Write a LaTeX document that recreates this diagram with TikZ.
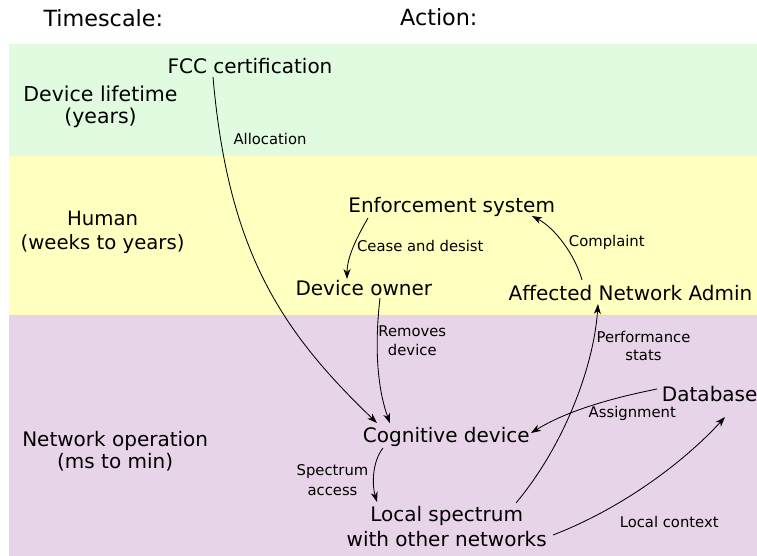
\documentclass[tikz,border=0pt]{standalone}
\usepackage{fontspec}
\setmainfont{DejaVu Sans}
\usetikzlibrary{arrows.meta,calc}
\definecolor{bandgreen}{RGB}{224,251,224}
\definecolor{bandyellow}{RGB}{255,255,192}
\definecolor{bandpurple}{RGB}{232,212,232}
% two centred lines, the node's baseline being that of the second line
\newcommand\twolines[2]{\begin{tabular}[b]{@{}c@{}}#1\\#2\end{tabular}}
\begin{document}
\begin{tikzpicture}[x=1pt,y=-1pt,
  every node/.style={inner sep=0pt,outer sep=0pt,anchor=base},
  head/.style={font=\fontsize{22.3}{26}\selectfont},
  lbl/.style={font=\fontsize{20}{24}\selectfont},
  note/.style={font=\fontsize{14.8}{18}\selectfont},
  lines/.style 2 args={font=\fontsize{#1}{#2}\selectfont},
  link/.style={line width=0.85pt,-{Stealth[length=10pt,width=7pt,inset=3pt]}}]

\useasboundingbox (0,0) rectangle (757,556);
\fill[white] (0,0) rectangle (757,556);

% timescale bands
\fill[bandgreen]  (9.3,44.3)  rectangle (757,155.7);
\fill[bandyellow] (9.3,155.7) rectangle (757,314.7);
\fill[bandpurple] (9.3,314.7) rectangle (757,556);

% column headings
\node[head] (tsh)  at (103.3,26.7) {Timescale:};
\node[head] (acth) at (438.8,26)   {Action:};

% timescale labels
\node[lines={20.5}{20.5}] (life)  at (100.5,123.5) {\twolines{Device lifetime}{(years)}};
\node[lines={19.7}{24.5}] (human) at (102.6,249.5) {\twolines{Human}{(weeks to years)}};
\node[lines={20}{22}]     (netop) at (115.2,468.5) {\twolines{Network operation}{(ms to min)}};

% actors
\node[lbl] (fcc) at (250,74)      {FCC certification};
\node[lbl] (enf) at (451.7,212.7) {Enforcement system};
\node[lbl] (own) at (363.8,295)   {Device owner};
\node[lbl] (aff) at (630.5,300)   {Affected Network Admin};
\node[lbl] (db)  at (709.7,401.7) {Database};
\node[lbl] (cog) at (446.3,442.9) {Cognitive device};
\node[lines={20}{25.4}] (loc) at (446.7,546.7) {\twolines{Local spectrum}{with other networks}};

% connector labels
\node[note] (alloc)  at (270,145)     {Allocation};
\node[note] (cease)  at (420.3,251.7) {Cease and desist};
\node[note] (compl)  at (606.8,246)   {Complaint};
\node[lines={14.8}{18.3}] (remv) at (412.3,355)   {\twolines{Removes}{device}};
\node[lines={14.8}{18.4}] (perf) at (643.5,360.7) {\twolines{Performance}{stats}};
\node[note] (assign) at (632.3,417.6) {Assignment};
\node[lines={14.8}{20}] (spec) at (332.5,495) {\twolines{Spectrum}{access}};
\node[note] (ctx)    at (669.2,527.3) {Local context};

% connectors
\draw[link] ($(fcc.base)+(-37,3)$) .. controls (228,250) and (280,330) .. ($(cog.base)+(-69.3,-19.9)$);
\draw[link] ($(own.base)+(16.2,3)$) .. controls (374,350) and (378,390) .. ($(cog.base)+(-56.3,-19.6)$);
\draw[link] ($(enf.base)+(-83.7,5.3)$) .. controls (360,232) and (347,255) .. ($(own.base)+(-16.8,-16)$);
\draw[link] ($(aff.base)+(-48.5,-20)$) .. controls (575,255) and (555,228) .. ($(enf.base)+(80.3,3.3)$);
\draw[link] ($(db.base)+(-52.7,-12.7)$) .. controls (607,399) and (565,412) .. ($(cog.base)+(84.7,-9.9)$);
\draw[link] ($(cog.base)+(-63.3,5.1)$) .. controls (372,462) and (372,485) .. ($(loc.base)+(-69.7,-44.7)$);
\draw[link] ($(loc.base)+(69.3,-43.7)$) .. controls (566,443) and (594,364) .. ($(aff.base)+(-32.5,4)$);
\draw[link] ($(loc.base)+(106.3,-11.7)$) .. controls (623,508) and (685,461) .. ($(db.base)+(15.3,15.3)$);
\end{tikzpicture}
\end{document}
